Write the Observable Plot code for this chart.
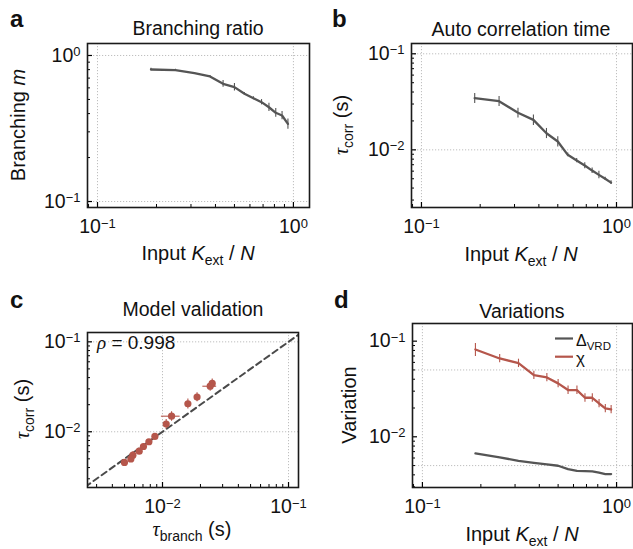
<!DOCTYPE html>
<html><head><meta charset="utf-8">
<script src="https://cdn.jsdelivr.net/npm/d3@7"></script>
<script src="https://cdn.jsdelivr.net/npm/@observablehq/plot@0.6"></script>
<style>
body{margin:0;background:#fff}
#fig{position:relative;width:633px;height:549px;overflow:hidden;background:#fff}
.panel{position:absolute}
#overlay{position:absolute;left:0;top:0;pointer-events:none}
</style></head><body><div id="fig"></div>
<script>
// ---- data ----
const kext = [0.1875,0.25,0.3125,0.375,0.4375,0.5,0.5625,0.625,0.6875,0.75,0.8125,0.875,0.9375];
const branchingM   = [0.802,0.793,0.757,0.718,0.640,0.607,0.547,0.510,0.479,0.442,0.405,0.388,0.340];
const branchingErr = [0.015,0.012,0.008,0.010,0.035,0.035,0.010,0.012,0.020,0.028,0.028,0.025,0.028];
const tauCorr      = [0.0345,0.0321,0.0243,0.0205,0.0149,0.0122,0.00887,0.00774,0.00686,0.00608,0.00549,0.00499,0.00456];
const tauCorrErr   = [0.0042,0.0038,0.0028,0.0026,0.0018,0.0015,0.0004,0.0004,0.0005,0.0004,0.0005,0.0002,0.0002];
const tauBranch    = [0.0248,0.0239,0.0188,0.0159,0.0118,0.0107,0.0087,0.0078,0.00706,0.00653,0.00582,0.00561,0.00499];
const tauBranchErr = [0.0010,0.0030,0.0006,0.0005,0.0020,0.0004,0.0002,0.0002,0.0002,0.0002,0.0002,0.0002,0.0001];
const chi          = [0.0819,0.0659,0.0589,0.0441,0.0418,0.0362,0.0308,0.0308,0.0256,0.0256,0.0223,0.0198,0.0193];
const chiErr       = [0.0127,0.0066,0.0059,0.0044,0.0042,0.0036,0.0031,0.0031,0.0026,0.0026,0.0022,0.0020,0.0019];
const deltaVRD     = [0.00671,0.00609,0.00561,0.00535,0.00515,0.00498,0.00460,0.00441,0.00438,0.00435,0.00421,0.00408,0.00408];
const rhoText = "0.998";

const GRAY = "#555555", RED = "#b5564b";
const FONT = '"Liberation Sans", Arial, Helvetica, sans-serif';

const rowsA = kext.map((k,i)=>({x:k, y:branchingM[i], e:branchingErr[i]}));
const rowsB = kext.map((k,i)=>({x:k, y:tauCorr[i], e:tauCorrErr[i]}));
const rowsC = kext.map((k,i)=>({x:tauBranch[i], y:tauCorr[i], ex:tauBranchErr[i], ey:tauCorrErr[i]}));
const rowsD = kext.map((k,i)=>({x:k, chi:chi[i], e:chiErr[i], d:deltaVRD[i]}));

function logTicks(domain){
  const out=[], major=[];
  const lo=Math.floor(Math.log10(domain[0])), hi=Math.ceil(Math.log10(domain[1]));
  for(let e=lo;e<=hi;e++) for(let k=1;k<=9;k++){
    const v=+(k*Math.pow(10,e)).toPrecision(6);
    if(v>=domain[0]&&v<=domain[1]) (k===1?major:out).push(v);
  }
  return {minor:out, major};
}
const fmt = d => "10^" + String(Math.round(Math.log10(d))).replace("-","\u2212");

function panel({left, top, width, height, ml, mr, mt, mb, xDomain, yDomain, xGrid, yGrid, marks}){
  const fw = width-ml-mr, fh = height-mt-mb;
  const xt = logTicks(xDomain), yt = logTicks(yDomain);
  const svg = Plot.plot({
    width, height, marginLeft:ml, marginRight:mr, marginTop:mt, marginBottom:mb,
    style:{fontSize:"19.5px", fontFamily:FONT, background:"transparent", color:"#111"},
    x:{type:"log", domain:xDomain, ticks:xt.major, tickFormat:fmt, tickSize:0, tickPadding:12, label:null},
    y:{type:"log", domain:yDomain, ticks:yt.major, tickFormat:fmt, tickSize:0, tickPadding:7, label:null},
    marks:[
      Plot.ruleX(xGrid, {x:d=>d, stroke:"#b8b8b8", strokeWidth:0.9, strokeDasharray:"1.2,1.8"}),
      Plot.ruleY(yGrid, {y:d=>d, stroke:"#b8b8b8", strokeWidth:0.9, strokeDasharray:"1.2,1.8"}),
      ...marks,
      Plot.ruleX(xt.minor, {x:d=>d, insetTop:fh-3, stroke:"#000", strokeWidth:1}),
      Plot.ruleX(xt.major, {x:d=>d, insetTop:fh-5, stroke:"#000", strokeWidth:1.2}),
      Plot.ruleY(yt.minor, {y:d=>d, insetRight:fw-3, stroke:"#000", strokeWidth:1}),
      Plot.ruleY(yt.major, {y:d=>d, insetRight:fw-5, stroke:"#000", strokeWidth:1.2}),
      Plot.frame({stroke:"#1a1a1a", strokeWidth:1.6})
    ]
  });
  const ns="http://www.w3.org/2000/svg";
  svg.querySelectorAll("text").forEach(t=>{
    const s=t.textContent;
    if(s.startsWith("10^")){
      t.style.fontSize="19.5px";
      t.style.fontFamily=FONT;
      t.textContent="10";
      const ts=document.createElementNS(ns,"tspan");
      ts.setAttribute("dy","-0.45em"); ts.style.fontSize="13px";
      ts.textContent=s.slice(3); t.appendChild(ts);
    }
  });
  const div=document.createElement("div");
  div.className="panel"; div.style.left=left+"px"; div.style.top=top+"px";
  div.appendChild(svg);
  document.getElementById("fig").appendChild(div);
}

const xK = [0.0889, 1.208];

// a
panel({left:0, top:0, width:316, height:275, ml:87, mr:7, mt:43, mb:68,
  xDomain:xK, yDomain:[0.0910,1.208], xGrid:[0.1,1], yGrid:[0.1,1],
  marks:[
    Plot.ruleX(rowsA, {x:"x", y1:d=>d.y-d.e, y2:d=>d.y+d.e, stroke:GRAY, strokeWidth:1.1}),
    Plot.line(rowsA, {x:"x", y:"y", stroke:GRAY, strokeWidth:2.3})
  ]});
// b
panel({left:316, top:0, width:317, height:275, ml:95, mr:1, mt:43, mb:68,
  xDomain:xK, yDomain:[0.00251,0.128], xGrid:[0.1,1], yGrid:[0.01,0.1],
  marks:[
    Plot.ruleX(rowsB, {x:"x", y1:d=>d.y-d.e, y2:d=>d.y+d.e, stroke:GRAY, strokeWidth:1.1}),
    Plot.line(rowsB, {x:"x", y:"y", stroke:GRAY, strokeWidth:2.3})
  ]});
// c
const identity = [0.001, 1];
panel({left:0, top:275, width:316, height:274, ml:87, mr:18, mt:57, mb:62,
  xDomain:[0.00254,0.120], yDomain:[0.00240,0.127], xGrid:[0.01,0.1], yGrid:[0.01,0.1],
  marks:[
    Plot.line(identity, {x:d=>d, y:d=>d, stroke:"#4a4a4a", strokeWidth:2, strokeDasharray:"6,4", clip:true}),
    Plot.ruleY(rowsC, {y:"y", x1:d=>d.x-d.ex, x2:d=>d.x+d.ex, stroke:RED, strokeWidth:1.1}),
    Plot.ruleX(rowsC, {x:"x", y1:d=>d.y-d.ey, y2:d=>d.y+d.ey, stroke:RED, strokeWidth:1.1}),
    Plot.dot(rowsC, {x:"x", y:"y", r:3.6, fill:RED, stroke:"none"})
  ]});
// d
panel({left:316, top:275, width:317, height:274, ml:96, mr:1, mt:48, mb:62,
  xDomain:xK, yDomain:[0.00295,0.153], xGrid:[0.1,1], yGrid:[0.005,0.05],
  marks:[
    Plot.line(rowsD, {x:"x", y:"d", stroke:GRAY, strokeWidth:2.3}),
    Plot.ruleX(rowsD, {x:"x", y1:d=>d.chi-d.e, y2:d=>d.chi+d.e, stroke:RED, strokeWidth:1.1}),
    Plot.line(rowsD, {x:"x", y:"chi", stroke:RED, strokeWidth:2.3})
  ]});

// ---- text overlay ----
const ov = d3.create("svg").attr("id","overlay").attr("width",633).attr("height",549)
  .attr("font-family",FONT).attr("fill","#111");
function txt(x,y,parts,opts={}){
  const t=ov.append("text").attr("x",x).attr("y",y)
    .attr("font-size",opts.size||20).attr("text-anchor",opts.anchor||"middle");
  if(opts.weight) t.attr("font-weight",opts.weight);
  if(opts.rotate) t.attr("x",0).attr("y",0).attr("transform",`translate(${x},${y}) rotate(-90)`);
  for(const p of parts){
    const s=t.append("tspan").text(p.t);
    if(p.i) s.attr("font-style","italic");
    if(p.f) s.attr("font-family",p.f);
    if(p.s) s.attr("font-size",p.s);
    if(p.dy) s.attr("dy",p.dy);
  }
  return t;
}
// panel letters
txt(10,27,[{t:"a"}],{size:24,weight:"bold",anchor:"start"});
txt(332,27,[{t:"b"}],{size:24,weight:"bold",anchor:"start"});
txt(10,308,[{t:"c"}],{size:24,weight:"bold",anchor:"start"});
txt(334,308,[{t:"d"}],{size:24,weight:"bold",anchor:"start"});
// titles
txt(198,35,[{t:"Branching ratio"}],{size:19.5});
txt(521,36,[{t:"Auto correlation time"}],{size:19.5});
txt(193,316,[{t:"Model validation"}],{size:19.5});
txt(522,318,[{t:"Variations"}],{size:19.5});
// x labels
const inputK = [{t:"Input "},{t:"K",i:true},{t:"ext",s:14,dy:5},{t:" / ",dy:-5},{t:"N",i:true}];
txt(198,260,inputK);
txt(521,261,inputK);
txt(522,541,inputK);
const SERIF='"Liberation Serif","Times New Roman",serif';
txt(192,536,[{t:"\u03c4",i:true,f:SERIF},{t:"branch",s:14,dy:5},{t:" (s)",dy:-5}]);
// y labels
txt(25,125,[{t:"Branching "},{t:"m",i:true}],{rotate:true});
const tauCorrLbl=[{t:"\u03c4",i:true,f:SERIF},{t:"corr",s:14,dy:5},{t:" (s)",dy:-5}];
txt(348,125,tauCorrLbl,{rotate:true});
txt(29,409,tauCorrLbl,{rotate:true});
txt(356,405,[{t:"Variation"}],{rotate:true});
// rho
txt(97,349,[{t:"\u03c1",i:true,f:SERIF},{t:" = "+rhoText}],{size:19,anchor:"start"});
// legend d
ov.append("line").attr("x1",555).attr("x2",573).attr("y1",338.5).attr("y2",338.5).attr("stroke",GRAY).attr("stroke-width",2.2);
ov.append("line").attr("x1",555).attr("x2",573).attr("y1",356.7).attr("y2",356.7).attr("stroke",RED).attr("stroke-width",2.2);
txt(576,346,[{t:"\u0394"},{t:"VRD",s:11.5,dy:4}],{size:16,anchor:"start"});
txt(576,364,[{t:"\u03c7"}],{size:17,anchor:"start"});
document.getElementById("fig").appendChild(ov.node());
</script></body></html>
